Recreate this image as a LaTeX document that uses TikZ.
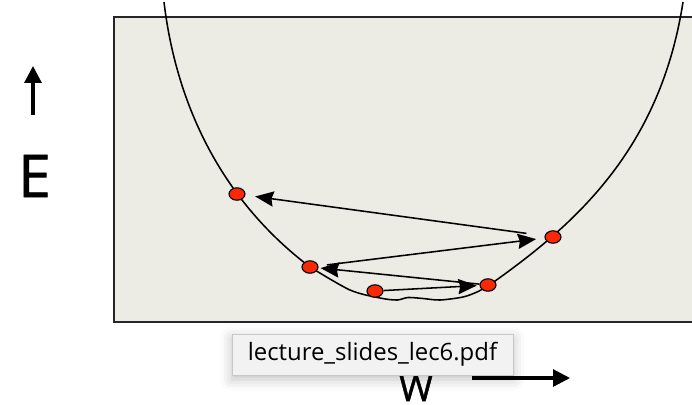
\documentclass[tikz,border=0pt]{standalone}
\usepackage{fontspec}
\setmainfont{Open Sans}
\newfontfamily\axisfont[FakeBold=1.2]{Open Sans}
\usepackage{xcolor}
\usetikzlibrary{arrows.meta, positioning, shapes.geometric, shadows.blur}

\definecolor{panel}{RGB}{236,235,228}
\definecolor{dotred}{RGB}{250,40,5}
\definecolor{tipgray}{RGB}{242,242,242}

\begin{document}
\begin{tikzpicture}[x=0.025cm, y=-0.025cm,
      dot/.style={ellipse, draw=black, line width=0.8pt, fill=dotred,
                  minimum width=0.4cm, minimum height=0.31cm, inner sep=0pt},
      arr/.style={-{Stealth[length=0.46cm, width=0.38cm, inset=0.05cm]}, line width=1.1pt},
      axarr/.style={-{Triangle[length=0.42cm, width=0.42cm]}, line width=2.2pt},
      big/.style={inner sep=0pt, font=\axisfont\fontsize{42}{42}\selectfont},
      tipbox/.style={draw=black!22, fill=tipgray, minimum width=7.03cm,
                     minimum height=1.03cm, inner sep=0pt,
                     font=\fontsize{17}{18}\selectfont,
                     blur shadow={shadow xshift=0pt, shadow yshift=-3pt,
                                  shadow blur radius=8pt, shadow opacity=25}}
    ]
      \useasboundingbox (0,0) rectangle (692,404);
      \clip (0,0) rectangle (692,404);

      % panel
      \draw[line width=1.5pt, draw=black!85, fill=panel] (114,17) rectangle (720,322);

      % error curve
      \draw[line width=1.1pt] (164,2) .. controls (175,95) and (215,195) .. (310,267)
        -- plot[smooth, tension=0.5] coordinates {
          (310,267) (350,290) (380,298) (397,300) (408,297.5) (423,298.5)
          (440,300) (463,297) (477,292) (488,286)}
        .. controls (575,225) and (660,150) .. (683,2);

      % weights along the curve
      \node[dot] (d1) at (237,194) {};
      \node[dot] (d2) at (553,237) {};
      \node[dot] (d3) at (310,267) {};
      \node[dot] (d4) at (375,291) {};
      \node[dot] (d5) at (488,285) {};

      % steps
      \draw[arr, shorten >=2pt] (d4) -- (d5);
      \draw[arr, shorten >=1.5pt] (d5) -- (d3);
      \draw[arr, shorten <=6pt, shorten >=6pt] (d3) -- (d2);
      \draw[arr, shorten <=13pt, shorten >=7pt] (d2) -- (d1);

      % axes
      \node[big] (elabel) at (34.5,176) {E};
      \coordinate (etail) at (33,115);
      \coordinate (ehead) at (33,66);
      \draw[axarr] (etail) -- (ehead);

      \node[big, font=\axisfont\fontsize{26}{26}\selectfont] (wlabel) at (416,388) {W};
      \coordinate (wtail) at (472,378);
      \coordinate (whead) at (570,378);
      \draw[axarr] (wtail) -- (whead);

      % tooltip
      \node[tipbox] (tip) at (372.5,354.5) {lecture\_slides\_lec6.pdf};
    \end{tikzpicture}
\end{document}
